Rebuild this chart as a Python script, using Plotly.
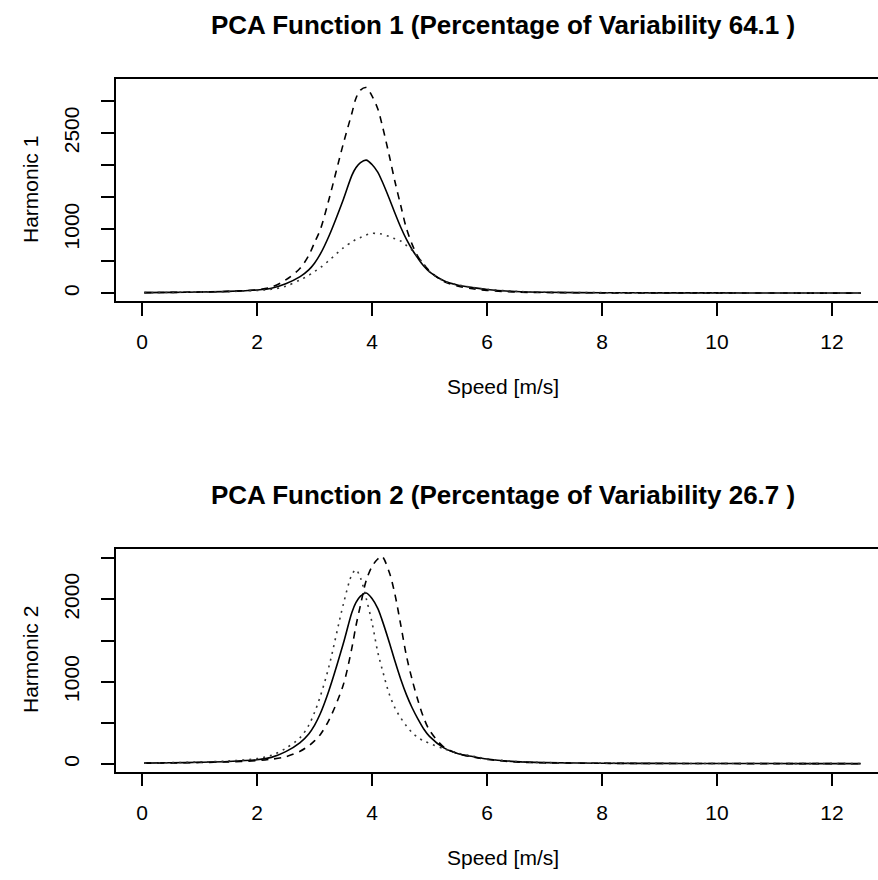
import plotly.graph_objects as go

# ---------------- data ----------------
speed = [0.04, 0.5, 1.0, 1.5, 2.0, 2.25, 2.5, 2.75, 2.9, 3.0, 3.1, 3.25, 3.5, 3.65, 3.72, 3.8,
         3.9, 4.0, 4.1, 4.17, 4.3, 4.4, 4.5, 4.6, 4.7, 4.8, 4.9, 5.0, 5.25, 5.5,
         5.75, 6.0, 6.5, 7.0, 8.0, 9.0, 10.0, 11.0, 12.0, 12.5]

mean_curve = [10, 14, 20, 30, 52, 80, 150, 260, 365, 470, 610, 890, 1460, 1840, 1960, 2040,
              2078, 2010, 1890, 1760, 1480, 1248, 1030, 840, 680, 545, 425, 335, 195, 125,
              90, 60, 28, 16, 9, 7, 6, 5, 4, 4]

pc1_plus = [10, 14, 20, 30, 55, 95, 210, 390, 590, 790, 990, 1460, 2330, 2810, 3040, 3170,
            3210, 3080, 2880, 2650, 2150, 1740, 1370, 1010, 760, 571, 450, 350, 185, 110,
            70, 45, 20, 12, 7, 5, 4, 4, 3, 3]

pc1_minus = [10, 14, 19, 27, 45, 62, 110, 210, 280, 340, 400, 510, 710, 800, 840, 870,
             910, 936, 932, 925, 885, 850, 815, 745, 670, 560, 460, 340, 190, 130,
             92, 62, 30, 17, 10, 7, 6, 5, 4, 4]

pc2_plus = [10, 12, 17, 25, 40, 58, 87, 155, 220, 280, 356, 530, 960, 1410, 1675, 1930,
            2230, 2400, 2490, 2524, 2330, 2057, 1690, 1310, 1020, 770, 560, 410, 205, 125,
            85, 55, 25, 14, 8, 6, 5, 4, 4, 3]

pc2_minus = [10, 16, 24, 36, 65, 105, 190, 320, 470, 625, 820, 1180, 1936, 2300, 2361, 2260,
             2010, 1720, 1360, 1170, 850, 680, 560, 460, 380, 320, 280, 250, 185, 130,
             95, 62, 30, 17, 10, 7, 6, 5, 4, 4]

x_tickvals = [0, 2, 4, 6, 8, 10, 12]
y1_tickvals = [0, 500, 1000, 1500, 2000, 2500, 3000]
y1_ticktext = ["0", "", "1000", "", "", "2500", ""]
y2_tickvals = [0, 500, 1000, 1500, 2000, 2500]
y2_ticktext = ["0", "", "1000", "", "2000", ""]

titles = ["PCA Function 1 (Percentage of Variability 64.1 )",
          "PCA Function 2 (Percentage of Variability 26.7 )"]
y_labels = ["Harmonic 1", "Harmonic 2"]
x_label = "Speed [m/s]"

# ---------------- figure ----------------
W, H = 878, 880
FONT = "Liberation Sans, Arial, Helvetica, sans-serif"
L = 116

def px_y(p):
    return 1 - p / H

def px_x(p):
    return (p - L) / (W - L)

fig = go.Figure()

panels = [
    (pc1_plus, pc1_minus, "x", "y"),
    (pc2_plus, pc2_minus, "x2", "y2"),
]
for plus, minus, xa, ya in panels:
    fig.add_trace(go.Scatter(x=speed, y=mean_curve, mode="lines", xaxis=xa, yaxis=ya,
                             line=dict(color="black", width=1.6, shape="spline", smoothing=0.9),
                             showlegend=False, hoverinfo="skip"))
    fig.add_trace(go.Scatter(x=speed, y=plus, mode="lines", xaxis=xa, yaxis=ya,
                             line=dict(color="black", width=1.6, dash="7px,6px",
                                       shape="spline", smoothing=0.9),
                             showlegend=False, hoverinfo="skip"))
    fig.add_trace(go.Scatter(x=speed, y=minus, mode="lines", xaxis=xa, yaxis=ya,
                             line=dict(color="#333333", width=1.6, dash="2px,5px",
                                       shape="spline", smoothing=0.9),
                             showlegend=False, hoverinfo="skip"))

x_range = [-0.452, 12.80]
common_x = dict(range=x_range, tickvals=x_tickvals, ticks="outside", ticklen=13,
                tickwidth=1.5, tickcolor="black", showline=True, linecolor="black",
                linewidth=1.5, mirror=True, showgrid=False, zeroline=False,
                tickfont=dict(family=FONT, size=21, color="black"),
                ticklabelstandoff=8, fixedrange=True)
common_y = dict(ticks="outside", ticklen=13, tickwidth=1.5, tickcolor="black",
                showline=True, linecolor="black", linewidth=1.5, mirror=False,
                showgrid=False, zeroline=False, tickangle=-90,
                tickfont=dict(family=FONT, size=21, color="black"),
                ticklabelstandoff=14, fixedrange=True)

fig.update_layout(
    width=W, height=H,
    margin=dict(l=L, r=0, t=0, b=0),
    paper_bgcolor="white", plot_bgcolor="white",
    xaxis=dict(**common_x, domain=[0, 1], anchor="y"),
    yaxis=dict(**common_y, domain=[px_y(301), px_y(78.7)], range=[-120, 3348],
               tickvals=y1_tickvals, ticktext=y1_ticktext, anchor="x"),
    xaxis2=dict(**common_x, domain=[0, 1], anchor="y2"),
    yaxis2=dict(**common_y, domain=[px_y(771.7), px_y(549)], range=[-94, 2612],
                tickvals=y2_tickvals, ticktext=y2_ticktext, anchor="x2"),
)

ann = []
title_y = [25, 495]
xlab_y = [386, 857]
ylab_y = [190, 660]
for i in range(2):
    ann.append(dict(text="<b>%s</b>" % titles[i], xref="paper", yref="paper",
                    x=px_x(503), y=px_y(title_y[i]), xanchor="center", yanchor="middle",
                    showarrow=False, font=dict(family=FONT, size=26, color="black")))
    ann.append(dict(text=x_label, xref="paper", yref="paper",
                    x=px_x(503), y=px_y(xlab_y[i]), xanchor="center", yanchor="middle",
                    showarrow=False, font=dict(family=FONT, size=21, color="black")))
    ann.append(dict(text=y_labels[i], xref="paper", yref="paper", textangle=-90,
                    x=px_x(30), y=px_y(ylab_y[i]), xanchor="center", yanchor="middle",
                    showarrow=False, font=dict(family=FONT, size=21, color="black")))
fig.update_layout(annotations=ann)

fig.write_html("out.html", config={"displayModeBar": False},
               post_script="document.body.style.margin='0';")
